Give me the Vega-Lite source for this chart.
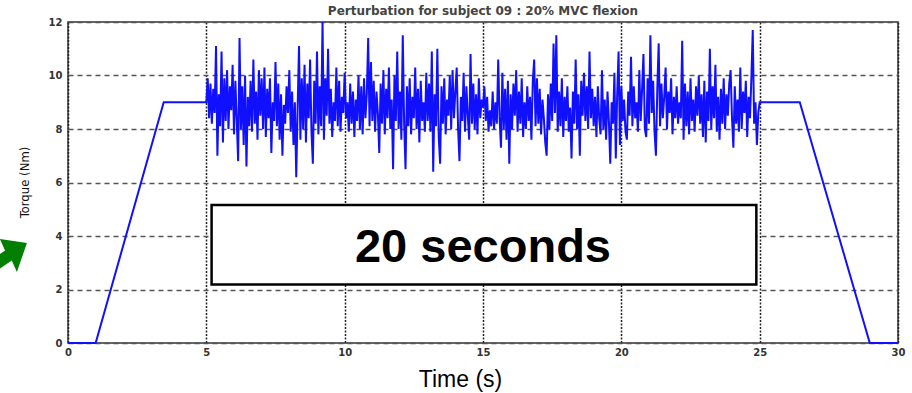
{
  "$schema": "https://vega.github.io/schema/vega-lite/v6.json",
  "width": 830,
  "height": 321,
  "autosize": "none",
  "padding": {"left": 68, "top": 22, "right": 14, "bottom": 50},
  "background": "white",
  "title": {
    "text": "Perturbation for subject 09 : 20% MVC flexion",
    "font": "DejaVu Sans",
    "fontSize": 12,
    "fontWeight": "bold",
    "color": "#444444",
    "anchor": "middle",
    "frame": "group",
    "baseline": "alphabetic",
    "offset": 5,
    "dy": 15
  },
  "config": {
    "view": {"stroke": "#333333", "strokeWidth": 1.5},
    "axis": {
      "domain": false,
      "ticks": false,
      "labelFont": "DejaVu Sans",
      "labelFontWeight": "bold",
      "labelFontSize": 10,
      "labelColor": "#333333",
      "labelFlush": false,
      "labelOverlap": false,
      "labelBound": false,
      "gridOpacity": 1
    }
  },
  "datasets": {
    "torque": [
      {"t":0,"v":0},{"t":1,"v":0},{"t":3.46,"v":9},
      {"t":5.00,"v":9.0},{"t":5.05,"v":9.9},{"t":5.10,"v":8.4},{"t":5.15,"v":9.7},{"t":5.20,"v":8.2},{"t":5.25,"v":9.5},{"t":5.30,"v":8.6},{"t":5.35,"v":11.1},{"t":5.40,"v":7.0},{"t":5.45,"v":9.3},
      {"t":5.50,"v":8.1},{"t":5.55,"v":10.9},{"t":5.60,"v":7.5},{"t":5.65,"v":9.9},{"t":5.70,"v":8.3},{"t":5.75,"v":10.2},{"t":5.80,"v":8.0},{"t":5.85,"v":9.6},{"t":5.90,"v":8.7},{"t":5.95,"v":10.4},
      {"t":6.00,"v":7.8},{"t":6.05,"v":9.8},{"t":6.10,"v":8.3},{"t":6.15,"v":6.8},{"t":6.20,"v":11.4},{"t":6.25,"v":8.0},{"t":6.30,"v":9.6},{"t":6.35,"v":7.4},{"t":6.40,"v":10.0},{"t":6.45,"v":6.6},
      {"t":6.50,"v":9.2},{"t":6.55,"v":8.1},{"t":6.60,"v":9.8},{"t":6.65,"v":7.9},{"t":6.70,"v":10.6},{"t":6.75,"v":8.2},{"t":6.80,"v":9.4},{"t":6.85,"v":7.6},{"t":6.90,"v":10.2},{"t":6.95,"v":8.5},
      {"t":7.00,"v":9.9},{"t":7.05,"v":8.0},{"t":7.10,"v":10.3},{"t":7.15,"v":7.7},{"t":7.20,"v":9.5},{"t":7.25,"v":8.4},{"t":7.30,"v":9.9},{"t":7.35,"v":7.1},{"t":7.40,"v":9.0},{"t":7.45,"v":8.3},
      {"t":7.50,"v":10.5},{"t":7.55,"v":8.1},{"t":7.60,"v":9.7},{"t":7.65,"v":7.6},{"t":7.70,"v":9.3},{"t":7.75,"v":7.0},{"t":7.80,"v":8.9},{"t":7.85,"v":8.2},{"t":7.90,"v":9.6},{"t":7.95,"v":8.6},
      {"t":8.00,"v":10.2},{"t":8.05,"v":7.9},{"t":8.10,"v":9.4},{"t":8.15,"v":7.4},{"t":8.20,"v":9.0},{"t":8.25,"v":6.2},{"t":8.30,"v":8.8},{"t":8.35,"v":11.1},{"t":8.40,"v":7.6},{"t":8.45,"v":9.9},
      {"t":8.50,"v":8.0},{"t":8.55,"v":10.4},{"t":8.60,"v":7.5},{"t":8.65,"v":9.7},{"t":8.70,"v":8.4},{"t":8.75,"v":10.6},{"t":8.80,"v":7.9},{"t":8.85,"v":6.7},{"t":8.90,"v":9.8},{"t":8.95,"v":8.2},
      {"t":9.00,"v":10.9},{"t":9.05,"v":7.8},{"t":9.10,"v":9.6},{"t":9.15,"v":8.1},{"t":9.20,"v":12.0},{"t":9.25,"v":7.6},{"t":9.30,"v":9.9},{"t":9.35,"v":8.5},{"t":9.40,"v":11.0},{"t":9.45,"v":8.2},
      {"t":9.50,"v":9.5},{"t":9.55,"v":7.7},{"t":9.60,"v":9.0},{"t":9.65,"v":8.3},{"t":9.70,"v":10.3},{"t":9.75,"v":8.1},{"t":9.80,"v":9.8},{"t":9.85,"v":7.9},{"t":9.90,"v":9.2},{"t":9.95,"v":8.6},
      {"t":10.00,"v":10.1},{"t":10.05,"v":8.4},{"t":10.10,"v":9.0},{"t":10.15,"v":7.9},{"t":10.20,"v":9.7},{"t":10.25,"v":8.2},{"t":10.30,"v":9.4},{"t":10.35,"v":7.7},{"t":10.40,"v":9.1},{"t":10.45,"v":8.3},
      {"t":10.50,"v":10.0},{"t":10.55,"v":8.0},{"t":10.60,"v":9.6},{"t":10.65,"v":7.8},{"t":10.70,"v":9.9},{"t":10.75,"v":8.4},{"t":10.80,"v":9.3},{"t":10.85,"v":11.4},{"t":10.90,"v":8.1},{"t":10.95,"v":10.5},
      {"t":11.00,"v":8.3},{"t":11.05,"v":9.8},{"t":11.10,"v":7.9},{"t":11.15,"v":9.4},{"t":11.20,"v":8.6},{"t":11.25,"v":7.1},{"t":11.30,"v":9.7},{"t":11.35,"v":8.2},{"t":11.40,"v":10.2},{"t":11.45,"v":7.8},
      {"t":11.50,"v":9.5},{"t":11.55,"v":8.4},{"t":11.60,"v":10.3},{"t":11.65,"v":8.0},{"t":11.70,"v":9.1},{"t":11.75,"v":6.5},{"t":11.80,"v":10.0},{"t":11.85,"v":8.3},{"t":11.90,"v":10.9},{"t":11.95,"v":8.0},
      {"t":12.00,"v":9.4},{"t":12.05,"v":7.6},{"t":12.10,"v":11.5},{"t":12.15,"v":8.2},{"t":12.20,"v":6.5},{"t":12.25,"v":9.6},{"t":12.30,"v":8.1},{"t":12.35,"v":9.9},{"t":12.40,"v":7.8},{"t":12.45,"v":9.2},
      {"t":12.50,"v":8.4},{"t":12.55,"v":10.3},{"t":12.60,"v":8.0},{"t":12.65,"v":9.5},{"t":12.70,"v":7.5},{"t":12.75,"v":9.8},{"t":12.80,"v":8.3},{"t":12.85,"v":9.0},{"t":12.90,"v":7.9},{"t":12.95,"v":10.1},
      {"t":13.00,"v":8.3},{"t":13.05,"v":9.7},{"t":13.10,"v":7.9},{"t":13.15,"v":10.9},{"t":13.20,"v":6.4},{"t":13.25,"v":9.3},{"t":13.30,"v":8.1},{"t":13.35,"v":11.0},{"t":13.40,"v":7.7},{"t":13.45,"v":6.7},
      {"t":13.50,"v":9.6},{"t":13.55,"v":8.2},{"t":13.60,"v":9.9},{"t":13.65,"v":7.8},{"t":13.70,"v":9.1},{"t":13.75,"v":8.5},{"t":13.80,"v":10.0},{"t":13.85,"v":8.0},{"t":13.90,"v":10.2},{"t":13.95,"v":8.4},
      {"t":14.00,"v":9.4},{"t":14.05,"v":10.3},{"t":14.10,"v":8.0},{"t":14.15,"v":6.8},{"t":14.20,"v":9.2},{"t":14.25,"v":8.3},{"t":14.30,"v":10.1},{"t":14.35,"v":7.9},{"t":14.40,"v":9.6},{"t":14.45,"v":8.5},
      {"t":14.50,"v":7.6},{"t":14.55,"v":10.8},{"t":14.60,"v":8.2},{"t":14.65,"v":9.7},{"t":14.70,"v":8.0},{"t":14.75,"v":9.3},{"t":14.80,"v":7.8},{"t":14.85,"v":9.9},{"t":14.90,"v":8.4},{"t":14.95,"v":9.1},
      {"t":15.00,"v":8.8},{"t":15.05,"v":9.6},{"t":15.10,"v":8.3},{"t":15.15,"v":9.2},{"t":15.20,"v":7.9},{"t":15.25,"v":8.7},{"t":15.30,"v":8.1},{"t":15.35,"v":9.4},{"t":15.40,"v":8.0},{"t":15.45,"v":9.0},
      {"t":15.50,"v":8.2},{"t":15.55,"v":10.6},{"t":15.60,"v":8.4},{"t":15.65,"v":7.3},{"t":15.70,"v":10.1},{"t":15.75,"v":8.0},{"t":15.80,"v":9.5},{"t":15.85,"v":7.6},{"t":15.90,"v":9.8},{"t":15.95,"v":6.7},
      {"t":16.00,"v":9.3},{"t":16.05,"v":8.0},{"t":16.10,"v":9.7},{"t":16.15,"v":8.5},{"t":16.20,"v":10.2},{"t":16.25,"v":7.9},{"t":16.30,"v":9.4},{"t":16.35,"v":8.2},{"t":16.40,"v":9.9},{"t":16.45,"v":7.7},
      {"t":16.50,"v":9.0},{"t":16.55,"v":8.0},{"t":16.60,"v":9.6},{"t":16.65,"v":8.3},{"t":16.70,"v":9.2},{"t":16.75,"v":7.6},{"t":16.80,"v":9.8},{"t":16.85,"v":10.6},{"t":16.90,"v":8.1},{"t":16.95,"v":9.9},
      {"t":17.00,"v":8.2},{"t":17.05,"v":9.5},{"t":17.10,"v":7.8},{"t":17.15,"v":9.1},{"t":17.20,"v":8.4},{"t":17.25,"v":7.5},{"t":17.30,"v":7.0},{"t":17.35,"v":9.3},{"t":17.40,"v":8.0},{"t":17.45,"v":9.7},
      {"t":17.50,"v":8.3},{"t":17.55,"v":11.2},{"t":17.60,"v":8.6},{"t":17.65,"v":11.5},{"t":17.70,"v":7.9},{"t":17.75,"v":9.4},{"t":17.80,"v":8.1},{"t":17.85,"v":9.9},{"t":17.90,"v":7.7},{"t":17.95,"v":9.2},
      {"t":18.00,"v":8.3},{"t":18.05,"v":9.6},{"t":18.10,"v":7.9},{"t":18.15,"v":8.8},{"t":18.20,"v":6.9},{"t":18.25,"v":9.4},{"t":18.30,"v":8.2},{"t":18.35,"v":10.6},{"t":18.40,"v":8.0},{"t":18.45,"v":9.3},
      {"t":18.50,"v":7.0},{"t":18.55,"v":9.8},{"t":18.60,"v":8.5},{"t":18.65,"v":10.1},{"t":18.70,"v":8.3},{"t":18.75,"v":9.6},{"t":18.80,"v":8.0},{"t":18.85,"v":10.9},{"t":18.90,"v":8.4},{"t":18.95,"v":9.5},
      {"t":19.00,"v":8.1},{"t":19.05,"v":9.2},{"t":19.10,"v":7.7},{"t":19.15,"v":9.6},{"t":19.20,"v":8.4},{"t":19.25,"v":7.8},{"t":19.30,"v":10.2},{"t":19.35,"v":8.0},{"t":19.40,"v":9.1},{"t":19.45,"v":7.6},
      {"t":19.50,"v":9.4},{"t":19.55,"v":8.3},{"t":19.60,"v":6.7},{"t":19.65,"v":9.0},{"t":19.70,"v":8.2},{"t":19.75,"v":10.1},{"t":19.80,"v":6.9},{"t":19.85,"v":9.3},{"t":19.90,"v":10.9},{"t":19.95,"v":7.4},
      {"t":20.00,"v":9.6},{"t":20.05,"v":8.3},{"t":20.10,"v":9.1},{"t":20.15,"v":7.9},{"t":20.20,"v":7.6},{"t":20.25,"v":9.4},{"t":20.30,"v":8.5},{"t":20.35,"v":10.7},{"t":20.40,"v":8.1},{"t":20.45,"v":9.6},
      {"t":20.50,"v":8.4},{"t":20.55,"v":9.0},{"t":20.60,"v":7.9},{"t":20.65,"v":10.2},{"t":20.70,"v":8.3},{"t":20.75,"v":9.5},{"t":20.80,"v":10.8},{"t":20.85,"v":8.0},{"t":20.90,"v":7.7},{"t":20.95,"v":9.9},
      {"t":21.00,"v":8.2},{"t":21.05,"v":11.5},{"t":21.10,"v":8.6},{"t":21.15,"v":9.8},{"t":21.20,"v":7.9},{"t":21.25,"v":7.0},{"t":21.30,"v":9.5},{"t":21.35,"v":11.2},{"t":21.40,"v":8.1},{"t":21.45,"v":9.7},
      {"t":21.50,"v":8.4},{"t":21.55,"v":9.2},{"t":21.60,"v":10.3},{"t":21.65,"v":8.0},{"t":21.70,"v":9.4},{"t":21.75,"v":8.6},{"t":21.80,"v":9.9},{"t":21.85,"v":7.8},{"t":21.90,"v":9.2},{"t":21.95,"v":8.4},
      {"t":22.00,"v":9.6},{"t":22.05,"v":8.2},{"t":22.10,"v":9.0},{"t":22.15,"v":8.4},{"t":22.20,"v":11.3},{"t":22.25,"v":7.6},{"t":22.30,"v":9.7},{"t":22.35,"v":8.1},{"t":22.40,"v":9.4},{"t":22.45,"v":7.8},
      {"t":22.50,"v":9.9},{"t":22.55,"v":8.3},{"t":22.60,"v":9.1},{"t":22.65,"v":7.9},{"t":22.70,"v":9.6},{"t":22.75,"v":8.5},{"t":22.80,"v":10.0},{"t":22.85,"v":8.2},{"t":22.90,"v":9.3},{"t":22.95,"v":7.7},
      {"t":23.00,"v":9.8},{"t":23.05,"v":7.5},{"t":23.10,"v":9.4},{"t":23.15,"v":8.3},{"t":23.20,"v":11.0},{"t":23.25,"v":8.0},{"t":23.30,"v":9.6},{"t":23.35,"v":8.4},{"t":23.40,"v":10.4},{"t":23.45,"v":7.9},
      {"t":23.50,"v":9.2},{"t":23.55,"v":7.6},{"t":23.60,"v":9.5},{"t":23.65,"v":8.2},{"t":23.70,"v":9.9},{"t":23.75,"v":8.0},{"t":23.80,"v":9.3},{"t":23.85,"v":8.5},{"t":23.90,"v":9.7},{"t":23.95,"v":10.2},
      {"t":24.00,"v":8.4},{"t":24.05,"v":7.3},{"t":24.10,"v":9.6},{"t":24.15,"v":8.2},{"t":24.20,"v":9.1},{"t":24.25,"v":7.9},{"t":24.30,"v":10.3},{"t":24.35,"v":8.0},{"t":24.40,"v":9.4},{"t":24.45,"v":8.6},
      {"t":24.50,"v":9.8},{"t":24.55,"v":7.7},{"t":24.60,"v":9.2},{"t":24.65,"v":8.4},{"t":24.70,"v":9.9},{"t":24.75,"v":11.7},{"t":24.80,"v":8.2},{"t":24.85,"v":9.0},{"t":24.90,"v":7.4},{"t":24.95,"v":8.6},
      {"t":25.00,"v":9.0},
      {"t":26.45,"v":9},{"t":28.98,"v":0},{"t":30,"v":0}
    ],
    "box": [
      {"x0":5.19,"x1":24.88,"y0":2.19,"y1":5.16,"tx":15,"ty":3.03,"label":"20 seconds"}
    ],
    "arrow": [
      {"x":-2.1,"y":3.29}
    ]
  },
  "layer": [
    {
      "data": {"name": "torque"},
      "mark": {"type": "line", "color": "#1010ff", "strokeWidth": 2, "interpolate": "linear"},
      "encoding": {
        "x": {
          "field": "t", "type": "quantitative",
          "scale": {"domain": [0, 30], "nice": false, "zero": false},
          "axis": {
            "values": [0, 5, 10, 15, 20, 25, 30],
            "labelPadding": 4,
            "grid": true,
            "gridColor": "#222222",
            "gridDash": [2, 1.5],
            "gridWidth": 1.5,
            "title": "Time (s)",
            "titleFont": "Liberation Sans",
            "titleFontSize": 23,
            "titleFontWeight": "normal",
            "titleColor": "#000000",
            "titleX": 392,
            "titleY": 43,
            "titleAlign": "center",
            "titleBaseline": "alphabetic"
          }
        },
        "y": {
          "field": "v", "type": "quantitative",
          "scale": {"domain": [0, 12], "nice": false, "zero": false},
          "axis": {
            "values": [0, 2, 4, 6, 8, 10, 12],
            "labelPadding": 6,
            "grid": true,
            "gridColor": "#555555",
            "gridDash": [5, 4],
            "gridWidth": 1.5,
            "title": "Torque (Nm)",
            "titleFont": "Liberation Sans Narrow, DejaVu Sans Condensed, Liberation Sans",
            "titleFontSize": 13,
            "titleFontWeight": "normal",
            "titleColor": "#111111",
            "titleAngle": -90,
            "titleX": -44,
            "titleY": 160,
            "titleAlign": "center",
            "titleBaseline": "middle"
          }
        }
      }
    },
    {
      "data": {"name": "box"},
      "mark": {"type": "rect", "fill": "white", "stroke": "black", "strokeWidth": 2.5},
      "encoding": {
        "x": {"field": "x0", "type": "quantitative", "title": "Time (s)"},
        "x2": {"field": "x1"},
        "y": {"field": "y0", "type": "quantitative", "title": "Torque (Nm)"},
        "y2": {"field": "y1"}
      }
    },
    {
      "data": {"name": "box"},
      "mark": {"type": "text", "font": "Liberation Sans", "fontSize": 47, "fontWeight": "bold", "align": "center", "baseline": "alphabetic", "color": "black"},
      "encoding": {
        "x": {"field": "tx", "type": "quantitative", "title": "Time (s)"},
        "y": {"field": "ty", "type": "quantitative", "title": "Torque (Nm)"},
        "text": {"field": "label"}
      }
    },
    {
      "data": {"name": "arrow"},
      "mark": {
        "type": "point",
        "shape": "M -0.162 -0.149 L -0.333 -0.533 L 0.567 -0.4 L 0.233 0.567 L 0.062 0.182 L -1.043 0.93 L -1.27 0.597 Z",
        "size": 3600,
        "filled": true,
        "color": "#007f00",
        "opacity": 1,
        "strokeWidth": 0,
        "clip": false
      },
      "encoding": {
        "x": {"field": "x", "type": "quantitative", "title": "Time (s)"},
        "y": {"field": "y", "type": "quantitative", "title": "Torque (Nm)"}
      }
    }
  ]
}
